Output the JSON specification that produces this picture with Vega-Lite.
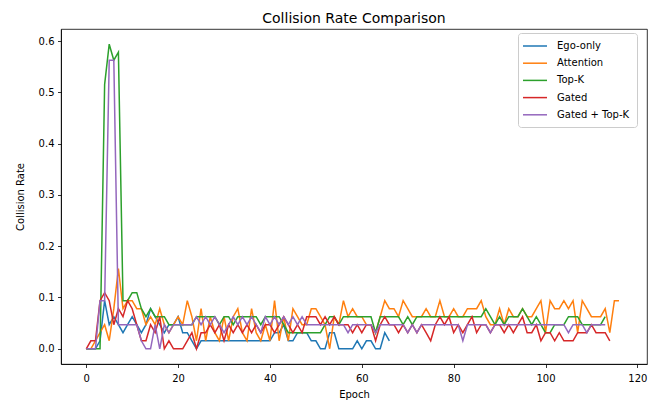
{
"$schema": "https://vega.github.io/schema/vega-lite/v6.json",
"width": 586, "height": 335,
"autosize": {"type": "none"},
"padding": {"left": 61, "top": 29, "right": 17, "bottom": 36},
"background": "white",
"title": {"text": "Collision Rate Comparison", "fontSize": 14, "font": "DejaVu Sans", "fontWeight": "normal", "offset": 3, "color": "black"},
"datasets": {
"ego": [{"epoch":0,"rate":0},{"epoch":1,"rate":0},{"epoch":2,"rate":0},{"epoch":3,"rate":0.0156},{"epoch":4,"rate":0.0938},{"epoch":5,"rate":0.0469},{"epoch":6,"rate":0.0625},{"epoch":7,"rate":0.0469},{"epoch":8,"rate":0.0313},{"epoch":9,"rate":0.0469},{"epoch":10,"rate":0.0625},{"epoch":11,"rate":0.0469},{"epoch":12,"rate":0.0313},{"epoch":13,"rate":0.0469},{"epoch":14,"rate":0.0781},{"epoch":15,"rate":0.0625},{"epoch":16,"rate":0.0469},{"epoch":17,"rate":0.0313},{"epoch":18,"rate":0.0469},{"epoch":19,"rate":0.0469},{"epoch":20,"rate":0.0625},{"epoch":21,"rate":0.0313},{"epoch":22,"rate":0.0313},{"epoch":23,"rate":0.0156},{"epoch":24,"rate":0},{"epoch":25,"rate":0.0156},{"epoch":26,"rate":0.0156},{"epoch":27,"rate":0.0156},{"epoch":28,"rate":0.0156},{"epoch":29,"rate":0.0156},{"epoch":30,"rate":0.0156},{"epoch":31,"rate":0.0156},{"epoch":32,"rate":0.0156},{"epoch":33,"rate":0.0156},{"epoch":34,"rate":0.0156},{"epoch":35,"rate":0.0156},{"epoch":36,"rate":0.0156},{"epoch":37,"rate":0.0156},{"epoch":38,"rate":0.0156},{"epoch":39,"rate":0.0156},{"epoch":40,"rate":0.0156},{"epoch":41,"rate":0.0313},{"epoch":42,"rate":0.0313},{"epoch":43,"rate":0.0469},{"epoch":44,"rate":0.0156},{"epoch":45,"rate":0.0156},{"epoch":46,"rate":0.0313},{"epoch":47,"rate":0.0313},{"epoch":48,"rate":0.0313},{"epoch":49,"rate":0.0156},{"epoch":50,"rate":0.0156},{"epoch":51,"rate":0},{"epoch":52,"rate":0},{"epoch":53,"rate":0.0313},{"epoch":54,"rate":0.0313},{"epoch":55,"rate":0},{"epoch":56,"rate":0},{"epoch":57,"rate":0},{"epoch":58,"rate":0},{"epoch":59,"rate":0.0156},{"epoch":60,"rate":0},{"epoch":61,"rate":0.0156},{"epoch":62,"rate":0.0156},{"epoch":63,"rate":0},{"epoch":64,"rate":0},{"epoch":65,"rate":0.0313},{"epoch":66,"rate":0.0156}],
"att": [{"epoch":0,"rate":0},{"epoch":1,"rate":0},{"epoch":2,"rate":0.0156},{"epoch":3,"rate":0.0313},{"epoch":4,"rate":0.0469},{"epoch":5,"rate":0.0156},{"epoch":6,"rate":0.0781},{"epoch":7,"rate":0.1563},{"epoch":8,"rate":0.0781},{"epoch":9,"rate":0.0938},{"epoch":10,"rate":0.0938},{"epoch":11,"rate":0.0781},{"epoch":12,"rate":0.0781},{"epoch":13,"rate":0.0469},{"epoch":14,"rate":0.0625},{"epoch":15,"rate":0.0469},{"epoch":16,"rate":0.0781},{"epoch":17,"rate":0.0469},{"epoch":18,"rate":0.0313},{"epoch":19,"rate":0.0469},{"epoch":20,"rate":0.0625},{"epoch":21,"rate":0.0469},{"epoch":22,"rate":0.0938},{"epoch":23,"rate":0.0625},{"epoch":24,"rate":0.0156},{"epoch":25,"rate":0.0781},{"epoch":26,"rate":0.0156},{"epoch":27,"rate":0.0625},{"epoch":28,"rate":0.0313},{"epoch":29,"rate":0.0156},{"epoch":30,"rate":0.0625},{"epoch":31,"rate":0.0156},{"epoch":32,"rate":0.0625},{"epoch":33,"rate":0.0781},{"epoch":34,"rate":0.0313},{"epoch":35,"rate":0.0156},{"epoch":36,"rate":0.0781},{"epoch":37,"rate":0.0313},{"epoch":38,"rate":0.0156},{"epoch":39,"rate":0.0469},{"epoch":40,"rate":0.0156},{"epoch":41,"rate":0.0938},{"epoch":42,"rate":0.0156},{"epoch":43,"rate":0.0625},{"epoch":44,"rate":0.0156},{"epoch":45,"rate":0.0781},{"epoch":46,"rate":0.0625},{"epoch":47,"rate":0.0469},{"epoch":48,"rate":0.0469},{"epoch":49,"rate":0.0781},{"epoch":50,"rate":0.0781},{"epoch":51,"rate":0.0625},{"epoch":52,"rate":0.0469},{"epoch":53,"rate":0},{"epoch":54,"rate":0.0625},{"epoch":55,"rate":0.0469},{"epoch":56,"rate":0.0938},{"epoch":57,"rate":0.0625},{"epoch":58,"rate":0.0781},{"epoch":59,"rate":0.0625},{"epoch":60,"rate":0.0625},{"epoch":61,"rate":0.0469},{"epoch":62,"rate":0.0469},{"epoch":63,"rate":0.0313},{"epoch":64,"rate":0.0625},{"epoch":65,"rate":0.0938},{"epoch":66,"rate":0.0781},{"epoch":67,"rate":0.0781},{"epoch":68,"rate":0.0625},{"epoch":69,"rate":0.0938},{"epoch":70,"rate":0.0781},{"epoch":71,"rate":0.0625},{"epoch":72,"rate":0.0625},{"epoch":73,"rate":0.0625},{"epoch":74,"rate":0.0781},{"epoch":75,"rate":0.0625},{"epoch":76,"rate":0.0625},{"epoch":77,"rate":0.0938},{"epoch":78,"rate":0.0625},{"epoch":79,"rate":0.0625},{"epoch":80,"rate":0.0781},{"epoch":81,"rate":0.0625},{"epoch":82,"rate":0.0625},{"epoch":83,"rate":0.0781},{"epoch":84,"rate":0.0781},{"epoch":85,"rate":0.0781},{"epoch":86,"rate":0.0938},{"epoch":87,"rate":0.0625},{"epoch":88,"rate":0.0469},{"epoch":89,"rate":0.0469},{"epoch":90,"rate":0.0781},{"epoch":91,"rate":0.0469},{"epoch":92,"rate":0.0781},{"epoch":93,"rate":0.0625},{"epoch":94,"rate":0.0625},{"epoch":95,"rate":0.0781},{"epoch":96,"rate":0.0625},{"epoch":97,"rate":0.0625},{"epoch":98,"rate":0.0781},{"epoch":99,"rate":0.0938},{"epoch":100,"rate":0.0313},{"epoch":101,"rate":0.0938},{"epoch":102,"rate":0.0781},{"epoch":103,"rate":0.0781},{"epoch":104,"rate":0.0938},{"epoch":105,"rate":0.0781},{"epoch":106,"rate":0.0938},{"epoch":107,"rate":0.0313},{"epoch":108,"rate":0.0938},{"epoch":109,"rate":0.0781},{"epoch":110,"rate":0.0625},{"epoch":111,"rate":0.0625},{"epoch":112,"rate":0.0625},{"epoch":113,"rate":0.0781},{"epoch":114,"rate":0.0313},{"epoch":115,"rate":0.0938},{"epoch":116,"rate":0.0938}],
"topk": [{"epoch":0,"rate":0},{"epoch":1,"rate":0},{"epoch":2,"rate":0},{"epoch":3,"rate":0},{"epoch":4,"rate":0.5156},{"epoch":5,"rate":0.5938},{"epoch":6,"rate":0.5625},{"epoch":7,"rate":0.5781},{"epoch":8,"rate":0.0938},{"epoch":9,"rate":0.0938},{"epoch":10,"rate":0.1094},{"epoch":11,"rate":0.1094},{"epoch":12,"rate":0.0781},{"epoch":13,"rate":0.0625},{"epoch":14,"rate":0.0781},{"epoch":15,"rate":0.0625},{"epoch":16,"rate":0.0625},{"epoch":17,"rate":0.0625},{"epoch":18,"rate":0.0469},{"epoch":19,"rate":0.0469},{"epoch":20,"rate":0.0469},{"epoch":21,"rate":0.0469},{"epoch":22,"rate":0.0469},{"epoch":23,"rate":0.0469},{"epoch":24,"rate":0.0625},{"epoch":25,"rate":0.0625},{"epoch":26,"rate":0.0625},{"epoch":27,"rate":0.0625},{"epoch":28,"rate":0.0625},{"epoch":29,"rate":0.0469},{"epoch":30,"rate":0.0625},{"epoch":31,"rate":0.0625},{"epoch":32,"rate":0.0469},{"epoch":33,"rate":0.0625},{"epoch":34,"rate":0.0625},{"epoch":35,"rate":0.0625},{"epoch":36,"rate":0.0625},{"epoch":37,"rate":0.0625},{"epoch":38,"rate":0.0469},{"epoch":39,"rate":0.0625},{"epoch":40,"rate":0.0625},{"epoch":41,"rate":0.0625},{"epoch":42,"rate":0.0625},{"epoch":43,"rate":0.0469},{"epoch":44,"rate":0.0313},{"epoch":45,"rate":0.0313},{"epoch":46,"rate":0.0313},{"epoch":47,"rate":0.0313},{"epoch":48,"rate":0.0313},{"epoch":49,"rate":0.0313},{"epoch":50,"rate":0.0313},{"epoch":51,"rate":0.0313},{"epoch":52,"rate":0.0469},{"epoch":53,"rate":0.0625},{"epoch":54,"rate":0.0625},{"epoch":55,"rate":0.0469},{"epoch":56,"rate":0.0625},{"epoch":57,"rate":0.0625},{"epoch":58,"rate":0.0625},{"epoch":59,"rate":0.0625},{"epoch":60,"rate":0.0625},{"epoch":61,"rate":0.0625},{"epoch":62,"rate":0.0625},{"epoch":63,"rate":0.0313},{"epoch":64,"rate":0.0625},{"epoch":65,"rate":0.0625},{"epoch":66,"rate":0.0625},{"epoch":67,"rate":0.0625},{"epoch":68,"rate":0.0625},{"epoch":69,"rate":0.0469},{"epoch":70,"rate":0.0625},{"epoch":71,"rate":0.0469},{"epoch":72,"rate":0.0625},{"epoch":73,"rate":0.0625},{"epoch":74,"rate":0.0625},{"epoch":75,"rate":0.0625},{"epoch":76,"rate":0.0625},{"epoch":77,"rate":0.0625},{"epoch":78,"rate":0.0625},{"epoch":79,"rate":0.0625},{"epoch":80,"rate":0.0625},{"epoch":81,"rate":0.0625},{"epoch":82,"rate":0.0625},{"epoch":83,"rate":0.0625},{"epoch":84,"rate":0.0625},{"epoch":85,"rate":0.0625},{"epoch":86,"rate":0.0625},{"epoch":87,"rate":0.0781},{"epoch":88,"rate":0.0625},{"epoch":89,"rate":0.0469},{"epoch":90,"rate":0.0625},{"epoch":91,"rate":0.0469},{"epoch":92,"rate":0.0625},{"epoch":93,"rate":0.0625},{"epoch":94,"rate":0.0625},{"epoch":95,"rate":0.0781},{"epoch":96,"rate":0.0625},{"epoch":97,"rate":0.0469},{"epoch":98,"rate":0.0625},{"epoch":99,"rate":0.0469},{"epoch":100,"rate":0.0313},{"epoch":101,"rate":0.0313},{"epoch":102,"rate":0.0469},{"epoch":103,"rate":0.0469},{"epoch":104,"rate":0.0469},{"epoch":105,"rate":0.0625},{"epoch":106,"rate":0.0625},{"epoch":107,"rate":0.0625},{"epoch":108,"rate":0.0469},{"epoch":109,"rate":0.0469},{"epoch":110,"rate":0.0469},{"epoch":111,"rate":0.0469},{"epoch":112,"rate":0.0469},{"epoch":113,"rate":0.0625}],
"gated": [{"epoch":0,"rate":0},{"epoch":1,"rate":0.0156},{"epoch":2,"rate":0.0156},{"epoch":3,"rate":0.0938},{"epoch":4,"rate":0.1094},{"epoch":5,"rate":0.0938},{"epoch":6,"rate":0.0469},{"epoch":7,"rate":0.0781},{"epoch":8,"rate":0.0625},{"epoch":9,"rate":0.0938},{"epoch":10,"rate":0.0781},{"epoch":11,"rate":0.0469},{"epoch":12,"rate":0.0156},{"epoch":13,"rate":0.0156},{"epoch":14,"rate":0.0469},{"epoch":15,"rate":0.0313},{"epoch":16,"rate":0.0625},{"epoch":17,"rate":0},{"epoch":18,"rate":0.0156},{"epoch":19,"rate":0},{"epoch":20,"rate":0},{"epoch":21,"rate":0},{"epoch":22,"rate":0.0156},{"epoch":23,"rate":0.0313},{"epoch":24,"rate":0},{"epoch":25,"rate":0.0313},{"epoch":26,"rate":0.0313},{"epoch":27,"rate":0.0469},{"epoch":28,"rate":0.0313},{"epoch":29,"rate":0.0469},{"epoch":30,"rate":0.0156},{"epoch":31,"rate":0.0469},{"epoch":32,"rate":0.0313},{"epoch":33,"rate":0.0469},{"epoch":34,"rate":0.0313},{"epoch":35,"rate":0.0469},{"epoch":36,"rate":0.0313},{"epoch":37,"rate":0.0469},{"epoch":38,"rate":0.0313},{"epoch":39,"rate":0.0469},{"epoch":40,"rate":0.0469},{"epoch":41,"rate":0.0313},{"epoch":42,"rate":0.0469},{"epoch":43,"rate":0.0625},{"epoch":44,"rate":0.0469},{"epoch":45,"rate":0.0313},{"epoch":46,"rate":0.0469},{"epoch":47,"rate":0.0313},{"epoch":48,"rate":0.0625},{"epoch":49,"rate":0.0625},{"epoch":50,"rate":0.0625},{"epoch":51,"rate":0.0469},{"epoch":52,"rate":0.0625},{"epoch":53,"rate":0.0469},{"epoch":54,"rate":0.0625},{"epoch":55,"rate":0.0469},{"epoch":56,"rate":0.0469},{"epoch":57,"rate":0.0469},{"epoch":58,"rate":0.0313},{"epoch":59,"rate":0.0469},{"epoch":60,"rate":0.0313},{"epoch":61,"rate":0.0469},{"epoch":62,"rate":0.0469},{"epoch":63,"rate":0.0156},{"epoch":64,"rate":0.0469},{"epoch":65,"rate":0.0625},{"epoch":66,"rate":0.0469},{"epoch":67,"rate":0.0469},{"epoch":68,"rate":0.0313},{"epoch":69,"rate":0.0469},{"epoch":70,"rate":0.0313},{"epoch":71,"rate":0.0469},{"epoch":72,"rate":0.0313},{"epoch":73,"rate":0.0469},{"epoch":74,"rate":0.0313},{"epoch":75,"rate":0.0156},{"epoch":76,"rate":0.0469},{"epoch":77,"rate":0.0625},{"epoch":78,"rate":0.0469},{"epoch":79,"rate":0.0625},{"epoch":80,"rate":0.0313},{"epoch":81,"rate":0.0469},{"epoch":82,"rate":0.0313},{"epoch":83,"rate":0.0469},{"epoch":84,"rate":0.0625},{"epoch":85,"rate":0.0313},{"epoch":86,"rate":0.0469},{"epoch":87,"rate":0.0469},{"epoch":88,"rate":0.0313},{"epoch":89,"rate":0.0469},{"epoch":90,"rate":0.0469},{"epoch":91,"rate":0.0313},{"epoch":92,"rate":0.0469},{"epoch":93,"rate":0.0313},{"epoch":94,"rate":0.0469},{"epoch":95,"rate":0.0625},{"epoch":96,"rate":0.0313},{"epoch":97,"rate":0.0313},{"epoch":98,"rate":0.0469},{"epoch":99,"rate":0.0156},{"epoch":100,"rate":0.0313},{"epoch":101,"rate":0.0313},{"epoch":102,"rate":0.0156},{"epoch":103,"rate":0.0313},{"epoch":104,"rate":0.0156},{"epoch":105,"rate":0.0156},{"epoch":106,"rate":0.0156},{"epoch":107,"rate":0.0313},{"epoch":108,"rate":0.0313},{"epoch":109,"rate":0.0313},{"epoch":110,"rate":0.0469},{"epoch":111,"rate":0.0313},{"epoch":112,"rate":0.0313},{"epoch":113,"rate":0.0313},{"epoch":114,"rate":0.0156}],
"gtk": [{"epoch":0,"rate":0},{"epoch":1,"rate":0},{"epoch":2,"rate":0},{"epoch":3,"rate":0.0938},{"epoch":4,"rate":0.0938},{"epoch":5,"rate":0.5625},{"epoch":6,"rate":0.5625},{"epoch":7,"rate":0.0469},{"epoch":8,"rate":0.0469},{"epoch":9,"rate":0.0469},{"epoch":10,"rate":0.0469},{"epoch":11,"rate":0.0469},{"epoch":12,"rate":0.0156},{"epoch":13,"rate":0},{"epoch":14,"rate":0},{"epoch":15,"rate":0.0469},{"epoch":16,"rate":0},{"epoch":17,"rate":0.0469},{"epoch":18,"rate":0.0313},{"epoch":19,"rate":0.0469},{"epoch":20,"rate":0.0469},{"epoch":21,"rate":0.0469},{"epoch":22,"rate":0.0469},{"epoch":23,"rate":0.0469},{"epoch":24,"rate":0.0625},{"epoch":25,"rate":0.0469},{"epoch":26,"rate":0.0625},{"epoch":27,"rate":0.0469},{"epoch":28,"rate":0.0625},{"epoch":29,"rate":0.0469},{"epoch":30,"rate":0.0313},{"epoch":31,"rate":0.0469},{"epoch":32,"rate":0.0625},{"epoch":33,"rate":0.0469},{"epoch":34,"rate":0.0625},{"epoch":35,"rate":0.0469},{"epoch":36,"rate":0.0625},{"epoch":37,"rate":0.0469},{"epoch":38,"rate":0.0313},{"epoch":39,"rate":0.0625},{"epoch":40,"rate":0.0469},{"epoch":41,"rate":0.0625},{"epoch":42,"rate":0.0469},{"epoch":43,"rate":0.0625},{"epoch":44,"rate":0.0469},{"epoch":45,"rate":0.0625},{"epoch":46,"rate":0.0469},{"epoch":47,"rate":0.0625},{"epoch":48,"rate":0.0469},{"epoch":49,"rate":0.0469},{"epoch":50,"rate":0.0469},{"epoch":51,"rate":0.0469},{"epoch":52,"rate":0.0469},{"epoch":53,"rate":0.0469},{"epoch":54,"rate":0.0469},{"epoch":55,"rate":0.0469},{"epoch":56,"rate":0.0469},{"epoch":57,"rate":0.0313},{"epoch":58,"rate":0.0469},{"epoch":59,"rate":0.0469},{"epoch":60,"rate":0.0469},{"epoch":61,"rate":0.0469},{"epoch":62,"rate":0.0469},{"epoch":63,"rate":0.0313},{"epoch":64,"rate":0.0469},{"epoch":65,"rate":0.0469},{"epoch":66,"rate":0.0469},{"epoch":67,"rate":0.0469},{"epoch":68,"rate":0.0469},{"epoch":69,"rate":0.0469},{"epoch":70,"rate":0.0313},{"epoch":71,"rate":0.0469},{"epoch":72,"rate":0.0313},{"epoch":73,"rate":0.0469},{"epoch":74,"rate":0.0469},{"epoch":75,"rate":0.0469},{"epoch":76,"rate":0.0469},{"epoch":77,"rate":0.0469},{"epoch":78,"rate":0.0469},{"epoch":79,"rate":0.0469},{"epoch":80,"rate":0.0469},{"epoch":81,"rate":0.0469},{"epoch":82,"rate":0.0156},{"epoch":83,"rate":0.0469},{"epoch":84,"rate":0.0469},{"epoch":85,"rate":0.0469},{"epoch":86,"rate":0.0469},{"epoch":87,"rate":0.0469},{"epoch":88,"rate":0.0313},{"epoch":89,"rate":0.0469},{"epoch":90,"rate":0.0469},{"epoch":91,"rate":0.0469},{"epoch":92,"rate":0.0469},{"epoch":93,"rate":0.0469},{"epoch":94,"rate":0.0469},{"epoch":95,"rate":0.0469},{"epoch":96,"rate":0.0469},{"epoch":97,"rate":0.0469},{"epoch":98,"rate":0.0469},{"epoch":99,"rate":0.0469},{"epoch":100,"rate":0.0469},{"epoch":101,"rate":0.0469},{"epoch":102,"rate":0.0469},{"epoch":103,"rate":0.0469},{"epoch":104,"rate":0.0469},{"epoch":105,"rate":0.0313},{"epoch":106,"rate":0.0469},{"epoch":107,"rate":0.0469},{"epoch":108,"rate":0.0469},{"epoch":109,"rate":0.0313},{"epoch":110,"rate":0.0469},{"epoch":111,"rate":0.0469},{"epoch":112,"rate":0.0469},{"epoch":113,"rate":0.0469}]
},
"encoding": {
"x": {"field": "epoch", "type": "quantitative", "scale": {"domain": [-5.5, 122.1], "nice": false, "zero": false}, "axis": {"values": [0, 20, 40, 60, 80, 100, 120], "format": "d", "title": "Epoch"}},
"y": {"field": "rate", "type": "quantitative", "scale": {"domain": [-0.0297, 0.6234], "nice": false, "zero": false}, "axis": {"values": [0, 0.1, 0.2, 0.3, 0.4, 0.5, 0.6], "format": ".1f", "title": "Collision Rate"}}
},
"layer": [
{"data": {"name": "ego"}, "mark": {"type": "line", "strokeWidth": 1.5, "clip": true}, "encoding": {"color": {"datum": "Ego-only", "type": "nominal", "scale": {"domain": ["Ego-only", "Attention", "Top-K", "Gated", "Gated + Top-K"], "range": ["#1f77b4", "#ff7f0e", "#2ca02c", "#d62728", "#9467bd"]}, "legend": {"title": null}}}},
{"data": {"name": "att"}, "mark": {"type": "line", "strokeWidth": 1.5, "clip": true}, "encoding": {"color": {"datum": "Attention", "type": "nominal"}}},
{"data": {"name": "topk"}, "mark": {"type": "line", "strokeWidth": 1.5, "clip": true}, "encoding": {"color": {"datum": "Top-K", "type": "nominal"}}},
{"data": {"name": "gated"}, "mark": {"type": "line", "strokeWidth": 1.5, "clip": true}, "encoding": {"color": {"datum": "Gated", "type": "nominal"}}},
{"data": {"name": "gtk"}, "mark": {"type": "line", "strokeWidth": 1.5, "clip": true}, "encoding": {"color": {"datum": "Gated + Top-K", "type": "nominal"}}}
],
"config": {
"font": "DejaVu Sans",
"view": {"stroke": "black", "strokeWidth": 0.8},
"axis": {"grid": false, "domainColor": "black", "domainWidth": 0.8, "tickColor": "black", "tickWidth": 0.8, "tickSize": 3.5, "labelPadding": 3.5, "labelColor": "black", "labelFont": "DejaVu Sans", "labelFontSize": 10, "labelFlush": false, "labelOverlap": false, "titleFont": "DejaVu Sans", "titleFontSize": 10, "titleFontWeight": "normal", "titleColor": "black"},
"axisX": {"labelPadding": 6, "titlePadding": 6},
"axisY": {"titlePadding": 13},
"legend": {"orient": "none", "legendX": 457, "legendY": 4, "symbolType": "M-1.6,0H3.2", "symbolSize": 100, "symbolStrokeWidth": 1.5, "symbolFillColor": "transparent", "labelFont": "DejaVu Sans", "labelFontSize": 10, "labelColor": "black", "padding": 7, "rowPadding": 6.2, "labelOffset": 20, "strokeColor": "#cccccc", "fillColor": "rgba(255,255,255,0.8)", "cornerRadius": 3}
}
}
